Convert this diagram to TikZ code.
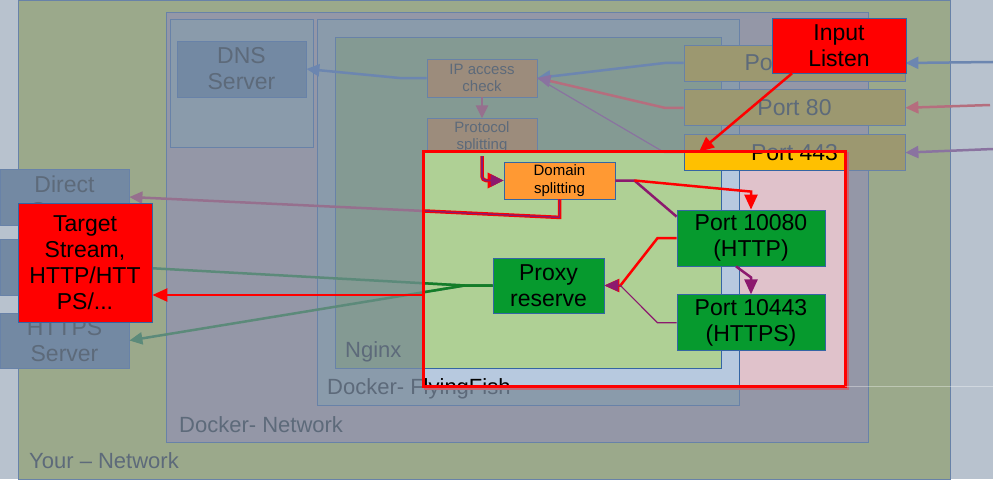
\documentclass[tikz,border=0pt]{standalone}
\usepackage{fontspec}
\setmainfont{Liberation Sans}
\usepackage[]{xcolor}
\usetikzlibrary{positioning}
\usetikzlibrary{arrows.meta}
\definecolor{farbg}{RGB}{184,194,206}
\definecolor{yournet}{RGB}{155,169,139}
\definecolor{dockernet}{RGB}{148,151,167}
\definecolor{ffdim}{RGB}{138,155,171}
\definecolor{nginxdim}{RGB}{132,154,147}
\definecolor{serverdim}{RGB}{115,137,163}
\definecolor{ipdim}{RGB}{156,140,124}
\definecolor{portdim}{RGB}{156,152,112}
\definecolor{edgedim}{RGB}{104,130,168}
\definecolor{textdim}{RGB}{93,106,122}
\definecolor{pinkhi}{RGB}{224,194,203}
\definecolor{bluehi}{RGB}{183,201,223}
\definecolor{greenhi}{RGB}{175,208,149}
\definecolor{porthi}{RGB}{255,192,0}
\definecolor{orangehi}{RGB}{255,153,51}
\definecolor{nodegreen}{RGB}{6,154,46}
\definecolor{edgehi}{RGB}{52,101,164}
\definecolor{plum}{RGB}{140,25,110}
\definecolor{leafgreen}{RGB}{20,125,40}
\definecolor{bluedim}{RGB}{108,134,176}
\definecolor{reddim}{RGB}{181,110,126}
\definecolor{purpledim}{RGB}{138,115,160}
\definecolor{mauvedim}{RGB}{150,112,142}
\definecolor{tealdim}{RGB}{92,138,122}
\definecolor{shadowred}{RGB}{190,105,118}
\tikzset{bigtext/.style={font=\fontsize{23}{26}\selectfont},
  smalltext/.style={font=\fontsize{15}{17.5}\selectfont},
  layer/.style={draw=edgedim,line width=0.8pt},
  layerlabel/.style={font=\fontsize{22}{26}\selectfont,text=textdim,anchor=base west,inner sep=0pt},
  dimbox/.style={draw=edgedim,line width=0.8pt,align=center,inner sep=0pt,text=textdim,bigtext},
  hibox/.style={draw=edgehi,line width=0.8pt,align=center,inner sep=0pt,text=black,bigtext},
  callout/.style={hibox,fill=red},
  dimarrow/.style={line width=2.5pt,-{Triangle[length=13pt,width=12pt]}},
  redarrow/.style={red,line width=2.5pt,-{Triangle[length=15pt,width=13pt]}},
  plumarrow/.style={plum,line width=2.5pt,-{Triangle[length=15pt,width=13pt]}}}

\begin{document}
\begin{tikzpicture}[x=1pt,y=-1pt]
            \useasboundingbox (0,0) rectangle (993,503);
            \fill[farbg] (0,0) rectangle (993,479);
            \draw[layer,fill=yournet] (18,0) rectangle (950,479);
            \draw[layer,fill=dockernet] (166,12) rectangle (868,442);
            \draw[layer,fill=ffdim] (170,19) rectangle (313,147);
            \draw[layer,fill=ffdim] (317,19) rectangle (739,405);
            \draw[layer,fill=nginxdim] (335,37) rectangle (721,368);
            \draw (29,468) node[layerlabel] (yourlabel) {Your – Network};
            \draw (179,432) node[layerlabel] (dockerlabel) {Docker- Network};
            \draw (327,394) node[layerlabel] (fishlabel) {Docker- FlyingFish};
            \draw (345,357) node[layerlabel] (nginxlabel) {Nginx};

            \node[dimbox,fill=serverdim,minimum width=129pt,minimum height=56pt] (dns) at (241.5,69) {DNS\\Server};
            \node[dimbox,fill=ipdim,smalltext,minimum width=110pt,minimum height=38pt] (ipcheck) at (482,78) {IP access\\check};
            \node[dimbox,fill=ipdim,smalltext,minimum width=110pt,minimum height=37pt,below=21pt of ipcheck] (proto) {Protocol\\splitting};
            \node[dimbox,fill=portdim,minimum width=221pt,minimum height=36pt] (port8080) at (794.5,63) {Port 8080};
            \node[dimbox,fill=portdim,minimum width=221pt,minimum height=36pt,below=8pt of port8080] (port80) {Port 80};
            \node[dimbox,fill=portdim,minimum width=221pt,minimum height=36pt,below=8pt of port80] (port443) {Port 443};
            \node[dimbox,fill=serverdim,minimum width=129pt,minimum height=56pt] (direct) at (64.5,197) {Direct\\Server};
            \node[dimbox,fill=serverdim,minimum width=129pt,minimum height=56pt] (http) at (64.5,267) {HTTP\\Server};
            \node[dimbox,fill=serverdim,minimum width=129pt,minimum height=55pt] (https) at (64.5,340.5) {HTTPS\\Server};

            \begin{scope}
            \clip (424,152) rectangle (845,386);
            \fill[pinkhi] (424,152) rectangle (845,386);
            \draw[layer,draw=edgehi,fill=bluehi] (317,19) rectangle (739,405);
            \draw[layer,draw=edgehi,fill=greenhi] (335,37) rectangle (721,368);
            \draw (327,394) node[layerlabel,text=black] (fishlabelhi) {Docker- FlyingFish};
            \node[hibox,fill=porthi,minimum width=221pt,minimum height=36pt] (port443hi) at (port443) {Port 443};
            \end{scope}

            \node[hibox,fill=orangehi,smalltext,minimum width=111pt,minimum height=37pt] (domain) at (559.5,180.5) {Domain\\splitting};
            \node[hibox,fill=nodegreen,minimum width=148pt,minimum height=56pt] (p10080) at (751,238) {Port 10080\\(HTTP)};
            \node[hibox,fill=nodegreen,minimum width=148pt,minimum height=56pt,below=28pt of p10080] (p10443) {Port 10443\\(HTTPS)};
            \node[hibox,fill=nodegreen,minimum width=111pt,minimum height=55pt] (proxy) at (548.5,285.5) {Proxy\\reserve};

            \coordinate (wan8080) at (993,62);
            \coordinate (wan80) at (990,105);
            \coordinate (wan443) at (993,149);
            \draw[dimarrow,bluedim] (wan8080) -- (port8080.east);
            \draw[dimarrow,reddim] (wan80) -- (port80.east);
            \draw[dimarrow,purpledim] (wan443) -- (port443.east);
            \draw[purpledim,line width=1.2pt] (port443.west) -- ++(-19,0) -- (ipcheck.east);
            \draw[dimarrow,bluedim] (port8080.west) -- ++(-19,0) -- (ipcheck.east);
            \draw[reddim,line width=2.5pt,-{Triangle[length=13pt,width=12pt,color=purpledim]}] (port80.west) -- ++(-19,0) -- (ipcheck.east);
            \draw[dimarrow,bluedim] (ipcheck.west) -- ++(-27,0) -- (dns.east);
            \draw[dimarrow,mauvedim] (ipcheck) -- (proto);
            \draw[dimarrow,mauvedim] (domain.south) -- ++(0,18) -- (direct.east);
            \draw[tealdim,line width=2.5pt] (proxy.west) -- ++(-28,0) -- (http.east);
            \draw[dimarrow,tealdim] (proxy.west) -- ++(-28,0) -- (https.east);

            \begin{scope}
            \clip (424,152) rectangle (845,386);
            \draw[red,line width=3.5pt] (domain.south) -- ++(0,18) -- (direct.east);
            \draw[plum,line width=1.4pt] (domain.south) -- ++(0,18) -- (direct.east);
            \draw[leafgreen,line width=2.5pt] (proxy.west) -- ++(-28,0) -- (http.east);
            \draw[leafgreen,line width=2.5pt] (proxy.west) -- ++(-28,0) -- (https.east);
            \end{scope}

            \draw[red,line width=3.5pt,rounded corners=4pt,-{Triangle[length=16pt,width=15pt]}] (proto.south) |- (domain.west);
            \draw[plum,line width=1.8pt,rounded corners=4pt,-{Triangle[length=13pt,width=12pt]}] (proto.south) |- (domain.west);
            \draw[plum,line width=2.5pt] (domain.east) -- ++(19,0) -- ([yshift=-7pt]p10080.north west);
            \draw[redarrow] ([xshift=19pt]domain.east) -- ([yshift=18pt]p10080.north) -- (p10080.north);
            \draw[plumarrow] ([xshift=-15pt]p10080.south) -- ([yshift=17pt]p10443.north) -- (p10443.north);
            \draw[redarrow] (p10080.west) -- ++(-19,0) -- ([xshift=16pt]proxy.east) -- (proxy.east);
            \draw[plum,line width=1.2pt,-{Triangle[length=14pt,width=12pt]}] (p10443.west) -- ++(-19,0) -- ([xshift=16pt]proxy.east) -- (proxy.east);

            \node[minimum width=421pt,minimum height=234pt,inner sep=0pt] (focus) at (634.5,269) {};
            \draw[shadowred,line width=2pt] ([xshift=3pt]focus.north east) -- ([shift={(3pt,-3pt)}]focus.south east) -- ([yshift=-3pt]focus.south west);
            \draw[red,line width=3pt] (focus.north west) rectangle (focus.south east);
            \draw[white,opacity=0.35,line width=0.8pt] (focus.south east) -- ++(148,0);
            \node[callout,minimum width=134pt,minimum height=55pt] (listen) at (839,45.5) {Input\\Listen};
            \node[callout,minimum width=134pt,minimum height=119pt] (target) at (85,262.5) {Target\\Stream,\\HTTP/HTT\\PS/...};
            \draw[redarrow] ([xshift=-47pt]listen.south) -- ([xshift=64.5pt]focus.north);
            \coordinate (back) at ([yshift=-26pt]focus.west);
            \draw[redarrow] (back) -- (back -| target.east);
        \end{tikzpicture}
\end{document}
